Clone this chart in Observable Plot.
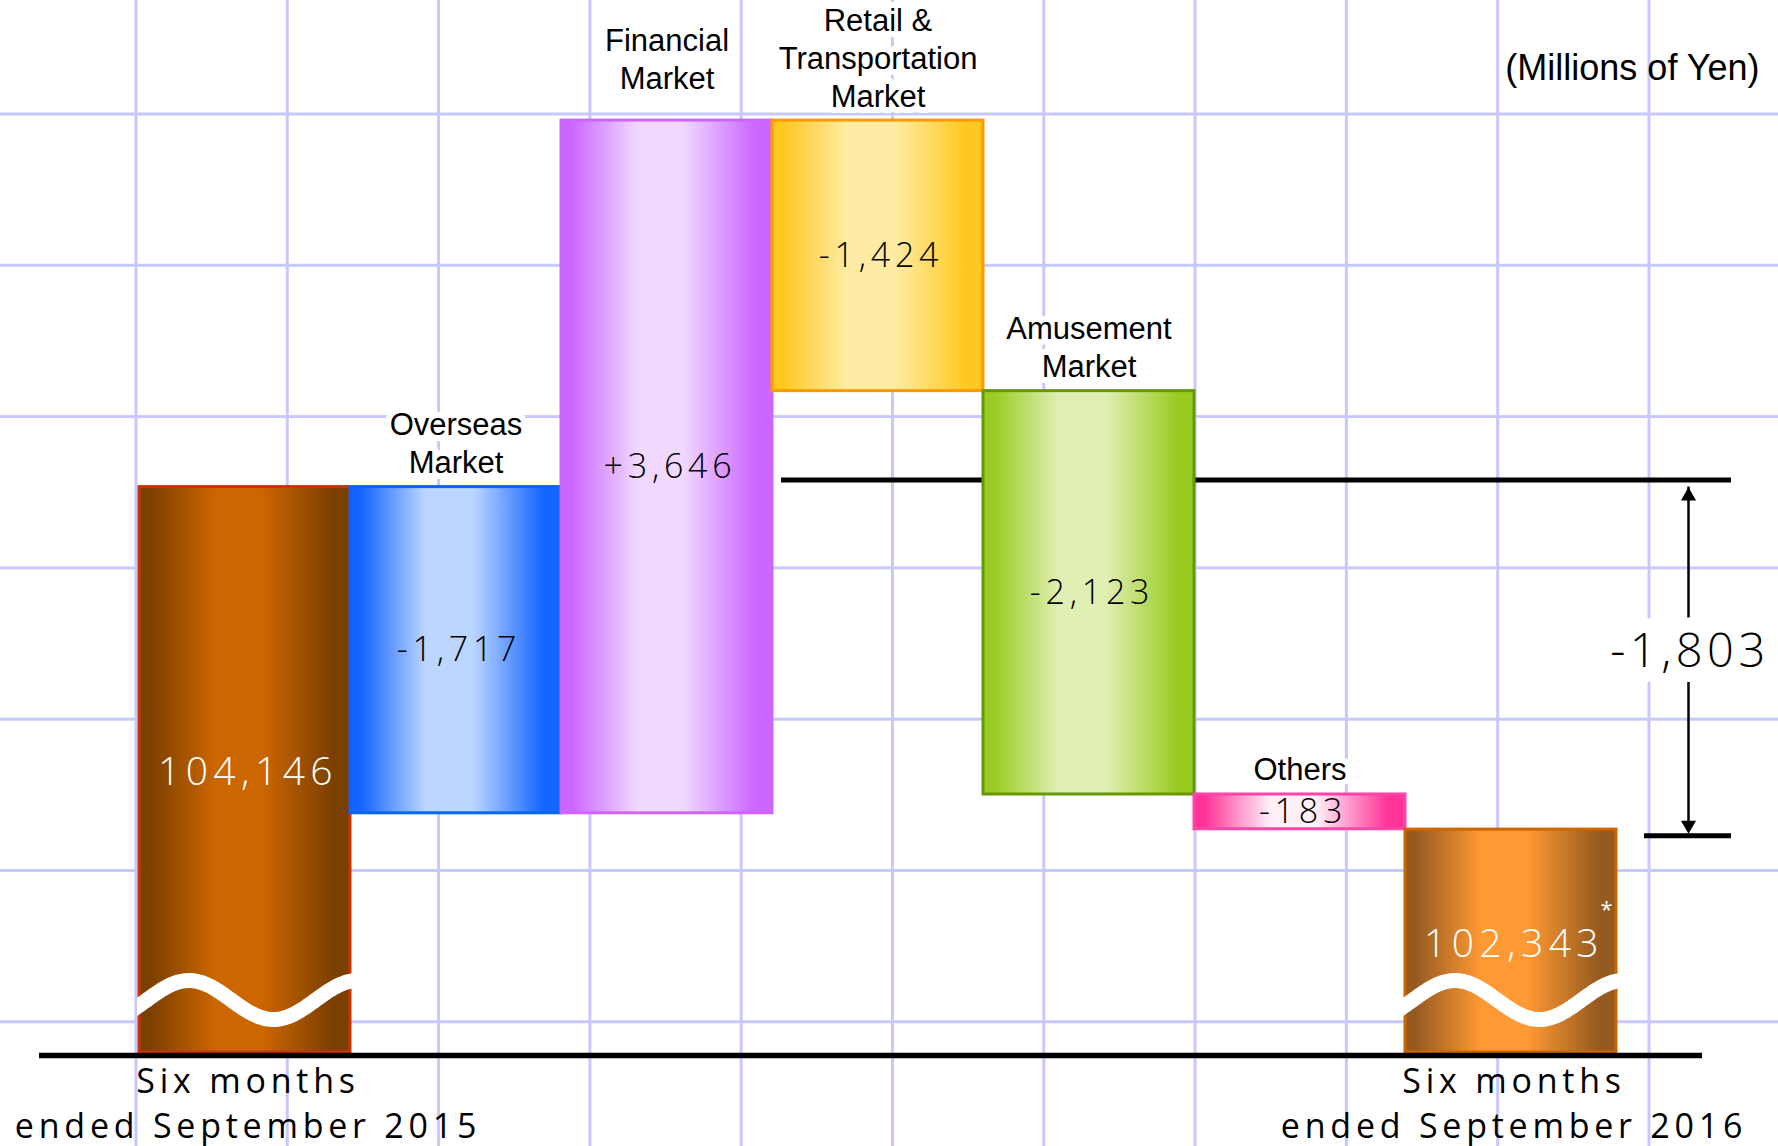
<!DOCTYPE html>
<html>
<head>
<meta charset="utf-8">
<script src="https://cdn.jsdelivr.net/npm/d3@7"></script>
<script src="https://cdn.jsdelivr.net/npm/@observablehq/plot@0.6"></script>
<style>
  html, body { margin: 0; padding: 0; background: #fff; }
  g[font-family="Open Sans"] text { letter-spacing: 0.14em; }
  g[font-size="47"] text { letter-spacing: 4.5px; }
</style>
</head>
<body>
<div id="chart"></div>
<script>
// ---------- data ----------
const categories = [
  "Six months\nended September 2015",
  "Overseas\nMarket",
  "Financial\nMarket",
  "Retail &\nTransportation\nMarket",
  "Amusement\nMarket",
  "Others",
  "Six months\nended September 2016"
];
const kinds = ["total", "change", "change", "change", "change", "change", "total"];
const values = [104146, -1717, 3646, -1424, -2123, -183, 102343];
const valueLabels = ["104,146", "-1,717", "+3,646", "-1,424", "-2,123", "-183", "102,343"];
const notes = ["", "", "", "", "", "", "*"];
const differenceLabel = "-1,803";
const unitLabel = "(Millions of Yen)";

// ---------- styles ----------
const edgeColors   = ["#7b3f00", "#1464ff", "#cc66ff", "#ffc820", "#99cc22", "#ff3399", "#955a20"];
const centerColors = ["#cc6600", "#bcd6ff", "#f0d8ff", "#ffeca4", "#e0efb4", "#fff0f8", "#ff9933"];
const borderColors = ["#cc3300", "#0a64ff", "#cc66ff", "#ff9900", "#669900", "#ff44aa", "#cc6600"];

// broken value axis: visible window of the scale
const yFloor = 101170, yCeil = 106707;

// ---------- waterfall table ----------
let running = 0;
const rows = categories.map((cat, i) => {
  let from, to;
  if (kinds[i] === "total") { from = yFloor; to = values[i]; running = values[i]; }
  else { from = running; to = running + values[i]; running = to; }
  return {
    cat, i, kind: kinds[i],
    lo: Math.min(from, to), hi: Math.max(from, to), mid: (from + to) / 2,
    label: valueLabels[i], note: notes[i],
    grad: `url(#grad-${i})`, border: borderColors[i]
  };
});
const first = values[0], last = values[values.length - 1];
const lastCat = categories[categories.length - 1];

function gradientDefs() {
  const defs = d3.create("svg:defs");
  rows.forEach(d => {
    const g = defs.append("linearGradient").attr("id", `grad-${d.i}`)
      .attr("x1", 0).attr("x2", 1).attr("y1", 0).attr("y2", 0);
    const e = edgeColors[d.i], c = centerColors[d.i];
    [[0, e], [0.05, e], [0.36, c], [0.58, c], [0.92, e], [1, e]]
      .forEach(([o, col]) => g.append("stop").attr("offset", o).attr("stop-color", col));
  });
  return defs.node();
}

function breakMarks(index, scales, vals, dims) {
  const g = d3.create("svg:g").attr("aria-label", "axis break");
  const bw = scales.x.bandwidth();
  const yBase = scales.y(yFloor);
  rows.filter(d => d.kind === "total").forEach(d => {
    const x0 = scales.x(d.cat);
    const id = `clip-break-${d.i}`;
    g.append("clipPath").attr("id", id).append("rect")
      .attr("x", x0 - 2).attr("y", yBase - 140).attr("width", bw + 4).attr("height", 140);
    const pts = d3.range(0, 121).map(k => {
      const t = -0.06 + (k / 120) * 1.12;
      return [x0 + t * bw, yBase - 52 - 19.5 * Math.sin(2 * Math.PI * (t - 0.037) / 0.8)];
    });
    g.append("path").attr("clip-path", `url(#${id})`).attr("d", d3.line()(pts))
      .attr("fill", "none").attr("stroke", "white").attr("stroke-width", 15);
  });
  return g.node();
}

const changes = rows.filter(d => d.kind === "change");
const totals = rows.filter(d => d.kind === "total");

const chart = Plot.plot({
  width: 1778,
  height: 1146,
  marginLeft: 136,
  marginRight: 160,
  marginTop: 0,
  marginBottom: 94,
  x: {domain: categories, padding: 0, axis: null},
  y: {domain: [yFloor, yCeil], axis: null},
  color: {type: "identity"},
  style: {
    backgroundColor: "white",
    backgroundImage: "linear-gradient(to right, #c8c8ff 3px, transparent 3px), linear-gradient(to bottom, #c8c8ff 3px, transparent 3px)",
    backgroundSize: "151.3px 151.3px",
    backgroundPosition: "134.5px 112.5px",
    fontFamily: "Liberation Sans, Arial, sans-serif",
    overflow: "visible"
  },
  marks: [
    gradientDefs,
    // reference levels
    Plot.ruleY([first], {stroke: "black", strokeWidth: 5, dy: -7, insetLeft: 645, insetRight: -113}),
    Plot.ruleY([last], {stroke: "black", strokeWidth: 5, dy: 6, insetLeft: 1508, insetRight: -113}),
    // bars
    Plot.barY(rows, {x: "cat", y1: "lo", y2: "hi", fill: "grad", stroke: "border", strokeWidth: 3}),
    breakMarks,
    // baseline
    Plot.ruleY([yFloor], {stroke: "black", strokeWidth: 5.5, dy: 3, insetLeft: -97, insetRight: -84}),
    // difference arrow
    Plot.ruleX([{cat: lastCat}], {x: "cat", y1: () => first, y2: () => last, dx: 177.5, stroke: "black", strokeWidth: 2.5}),
    Plot.dot([{cat: lastCat, v: first}], {x: "cat", y: "v", symbol: "triangle", r: 5.6, fill: "black", stroke: "none", dx: 177.5, dy: 9}),
    Plot.dot([{cat: lastCat, v: last}], {x: "cat", y: "v", symbol: "triangle", r: 5.6, rotate: 180, fill: "black", stroke: "none", dx: 177.5, dy: -4.5}),
    Plot.text([{cat: lastCat, v: (first + last) / 2}], {
      x: "cat", y: "v", text: () => differenceLabel, dx: 179, dy: -6,
      fontSize: 47, fontFamily: "Open Sans", fontWeight: 300, fill: "black",
      stroke: "white", strokeWidth: 30, strokeLinejoin: "round"
    }),
    // category labels above change bars
    Plot.text(changes.filter(d => !d.cat.startsWith("Financial")), {
      x: "cat", y: "hi", text: "cat", lineAnchor: "bottom", dy: -14, lineHeight: 1.22,
      fontSize: 31, fill: "black", stroke: "white", strokeWidth: 12, strokeLinejoin: "round"
    }),
    Plot.text(changes.filter(d => d.cat.startsWith("Financial")), {
      x: "cat", y: "hi", text: "cat", lineAnchor: "bottom", dy: -32, lineHeight: 1.22,
      fontSize: 31, fill: "black", stroke: "white", strokeWidth: 12, strokeLinejoin: "round"
    }),
    // period labels below the baseline
    Plot.text(totals, {
      x: "cat", frameAnchor: "bottom", text: "cat", lineAnchor: "bottom", dy: 85, dx: 3,
      lineHeight: 1.31, fontSize: 34, fontFamily: "Open Sans", fill: "black"
    }),
    // values inside bars
    Plot.text(changes, {
      x: "cat", y: "mid", text: "label", lineAnchor: "middle", dx: 3,
      fontSize: 34, fontFamily: "Open Sans", fontWeight: 300, fill: "black"
    }),
    Plot.text(totals, {
      x: "cat", y: "mid", text: "label", lineAnchor: "middle", dx: 3, dy: 3,
      fontSize: 39, fontFamily: "Open Sans", fontWeight: 300, fill: "white"
    }),
    Plot.text(totals.filter(d => d.note), {
      x: "cat", y: "mid", text: "note", dx: 97, dy: -31,
      fontSize: 22, fontFamily: "Open Sans", fill: "white"
    }),
    // unit
    Plot.text([unitLabel], {
      text: d => d, frameAnchor: "top-right", textAnchor: "end", lineAnchor: "bottom",
      dx: 141, dy: 79, fontSize: 36, fill: "black"
    })
  ]
});
document.getElementById("chart").appendChild(chart);
</script>
</body>
</html>
